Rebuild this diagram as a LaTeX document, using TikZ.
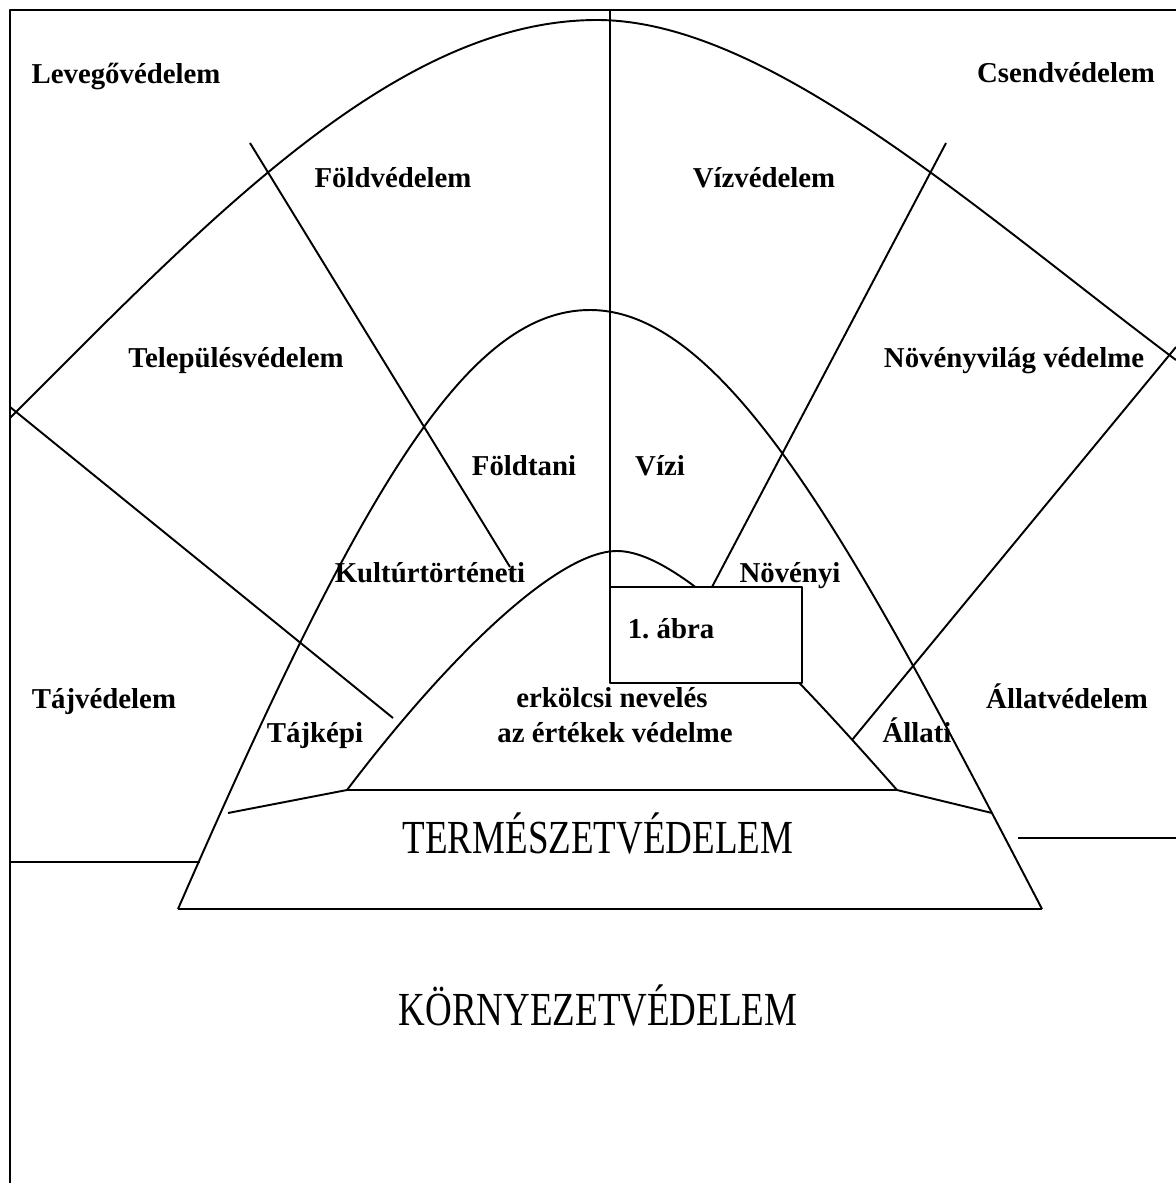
\documentclass[tikz,border=0pt]{standalone}
\usepackage{graphicx}
\usepackage{fontspec}
\setmainfont{Liberation Serif}
\usetikzlibrary{positioning}

\tikzset{
  lbl/.style={font=\fontsize{16.4}{19}\selectfont\bfseries, inner sep=0pt, anchor=base},
  biglbl/.style={font=\fontsize{27}{30}\selectfont, inner sep=0pt, anchor=base},
}

\begin{document}
\begin{tikzpicture}[x=0.02cm, y=-0.02cm, line width=1.1pt, line join=round]
    \useasboundingbox (0,0) rectangle (1176,1183);
% frame
\draw (1176,10) -- (10,10) -- (10,1183);

% corner points of the inner base
\coordinate (tl) at (347,790);
\coordinate (tr) at (897,790);
\coordinate (bl) at (178,909);
\coordinate (br) at (1042,909);
\coordinate (ab) at (610,587);
\coordinate (ae) at (802,683);

% outer arc
\draw (10,418) .. controls (210,218) and (397,20) .. (597,20)
               .. controls (767,20) and (976,210) .. (1176,360);
% middle arc (ends on the base line)
\draw (bl) .. controls (358,497) and (465,310) .. (590,310)
           .. controls (730,310) and (862,563) .. (br);
% inner arc
\draw (tl) .. controls (447,658) and (557,551) .. (617,551)
           .. controls (677,551) and (777,654) .. (tr);

% dividers
\draw (250,143) -- (510,567);
\draw (946,143) -- (712,587);
\draw (10,407) -- (393,718);
\draw (1176,347) -- (852,740);
\draw (610,10) -- (ab);

% base
\draw (228,813) -- (tl) -- (tr) -- (992,813);
\draw (bl) -- (br);
\draw (10,862) -- (200,862);
\draw (1018,838) -- (1176,838);

% box
\draw[fill=white] (ab) rectangle (ae);

\foreach \x/\y/\t [count=\i] in {126/83/Levegővédelem, 1066/82/Csendvédelem,
    393/187/Földvédelem, 764/187/Vízvédelem, 236/367/Településvédelem,
    1014/367/Növényvilág védelme, 524/475/Földtani, 660/475/Vízi,
    430/582/Kultúrtörténeti, 790/582/Növényi, 671/638/{1.\ ábra},
    612/707/erkölcsi nevelés, 615/742/az értékek védelme,
    104/708/Tájvédelem, 315/742/Tájképi, 1067/708/Állatvédelem, 917/742/Állati}
  \node[lbl] (lab\i) at (\x,\y) {\t};

\node[biglbl] (termeszet) at (598,853) {\scalebox{0.78}[1]{TERMÉSZETVÉDELEM}};
\node[biglbl] (kornyezet) at (598,1025) {\scalebox{0.78}[1]{KÖRNYEZETVÉDELEM}};
\end{tikzpicture}
\end{document}
